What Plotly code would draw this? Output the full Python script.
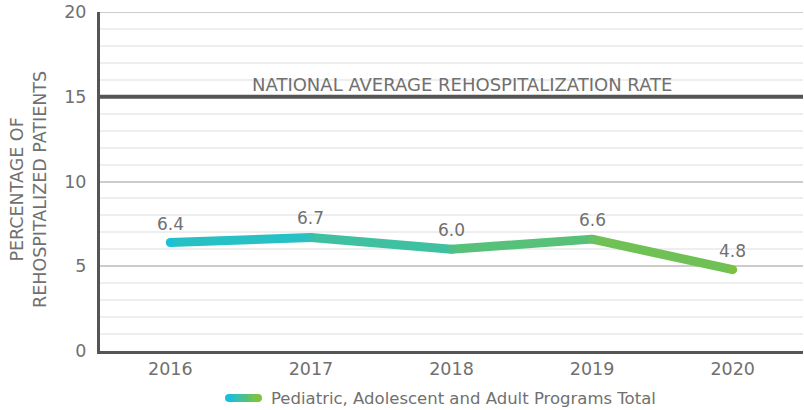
import plotly.graph_objects as go

years = ["2016", "2017", "2018", "2019", "2020"]
rates = [6.4, 6.7, 6.0, 6.6, 4.8]
rate_labels = ["6.4", "6.7", "6.0", "6.6", "4.8"]
national_average = 15
series_name = "Pediatric, Adolescent and Adult Programs Total"
ref_label = "NATIONAL AVERAGE REHOSPITALIZATION RATE"
y_title = "PERCENTAGE OF<br>REHOSPITALIZED PATIENTS"
y_ticks = [0, 5, 10, 15, 20]
y_max = 20

C0 = (26, 192, 216)
C1 = (124, 193, 66)


def mix(t):
    r, g, b = (round(C0[i] + (C1[i] - C0[i]) * t) for i in range(3))
    return f"rgb({r},{g},{b})"


FONT = "DejaVu Sans"
GRAY = "#707070"
n = len(years)
idx = list(range(n))
fig = go.Figure()

# gradient-ish line: one segment per pair of points
for i in range(n - 1):
    t = (i + 0.5) / (n - 1)
    fig.add_trace(go.Scatter(
        x=idx[i:i + 2], y=rates[i:i + 2], mode="lines",
        line=dict(color=mix(t), width=9), showlegend=False, hoverinfo="skip"))

fig.add_trace(go.Scatter(
    x=idx, y=rates, mode="markers",
    marker=dict(size=9, color=[mix(i / (n - 1)) for i in range(n)], line=dict(width=0)),
    showlegend=False, name=series_name))

annotations = []
for i, v, lab in zip(idx, rates, rate_labels):
    annotations.append(dict(x=i, y=v, text=lab, xref="x", yref="y", showarrow=False, yshift=19,
                            font=dict(family=FONT, size=17, color=GRAY)))

annotations.append(dict(x=0.515, xref="paper", y=national_average, yref="y", text=ref_label,
                        showarrow=False, yshift=12,
                        font=dict(family=FONT, size=18, color=GRAY)))

shapes = [
    dict(type="line", xref="paper", x0=0, x1=1, yref="y", y0=y_max, y1=y_max,
         line=dict(color="#cccccc", width=2), layer="below"),
    dict(type="line", xref="paper", x0=0, x1=1, yref="y", y0=national_average,
         y1=national_average, line=dict(color="#555555", width=4), layer="above"),
]

# body margin is removed by post_script, so figure fills the window
W, H = 804, 410
ML, MR, MT, MB = 100, 1, 12, 59
pw, ph = W - ML - MR, H - MT - MB


def px_x(x):
    return (x - ML) / pw


def px_y(y):
    return (H - MB - y) / ph


# y-axis title as rotated annotation
annotations.append(dict(x=px_x(28), xref="paper", y=px_y(190), yref="paper", text=y_title,
                        showarrow=False, textangle=-90, xanchor="center", yanchor="middle",
                        font=dict(family=FONT, size=17.5, color=GRAY)))

# manual legend text
annotations.append(dict(x=px_x(269), xref="paper", y=px_y(398), yref="paper", text=series_name,
                        showarrow=False, xanchor="left", yanchor="middle",
                        font=dict(family=FONT, size=16.5, color=GRAY)))

# legend pill with gradient
lx0, lx1, ly, lh = 229, 258, 398, 8
steps = 12
for k in range(steps):
    a = lx0 + (lx1 - lx0) * k / steps
    b = lx0 + (lx1 - lx0) * (k + 1) / steps + 0.6
    shapes.append(dict(type="rect", xref="paper", yref="paper",
                       x0=px_x(a), x1=px_x(b), y0=px_y(ly + lh / 2), y1=px_y(ly - lh / 2),
                       fillcolor=mix(k / (steps - 1)), line=dict(width=0)))
for cx, col in ((lx0, mix(0)), (lx1, mix(1))):
    shapes.append(dict(type="circle", xref="paper", yref="paper",
                       x0=px_x(cx - lh / 2), x1=px_x(cx + lh / 2),
                       y0=px_y(ly + lh / 2), y1=px_y(ly - lh / 2),
                       fillcolor=col, line=dict(width=0)))

fig.update_layout(
    width=W, height=H,
    margin=dict(l=ML, r=MR, t=MT, b=MB, autoexpand=False),
    paper_bgcolor="white", plot_bgcolor="white",
    showlegend=False,
    font=dict(family=FONT, color=GRAY),
    annotations=annotations, shapes=shapes,
    xaxis=dict(range=[-0.5, n - 0.5], tickvals=idx, ticktext=years, showgrid=False,
               zeroline=False, automargin=False,
               showline=True, linecolor="#555555", linewidth=3,
               ticks="", tickfont=dict(family=FONT, size=17.5, color=GRAY)),
    yaxis=dict(range=[0, y_max], tickvals=y_ticks, showgrid=True, gridcolor="#cccccc", gridwidth=2,
               minor=dict(dtick=1, showgrid=True, gridcolor="#eeeeee", gridwidth=2),
               showline=True, linecolor="#555555", linewidth=3, zeroline=False,
               automargin=False, ticks="", ticklabelstandoff=7, ticklabeloverflow="allow",
               tickfont=dict(family=FONT, size=17.5, color=GRAY)),
)

fig.write_html("out.html", config={"displayModeBar": False},
               post_script="document.body.style.margin='0';document.body.style.overflow='hidden';")
